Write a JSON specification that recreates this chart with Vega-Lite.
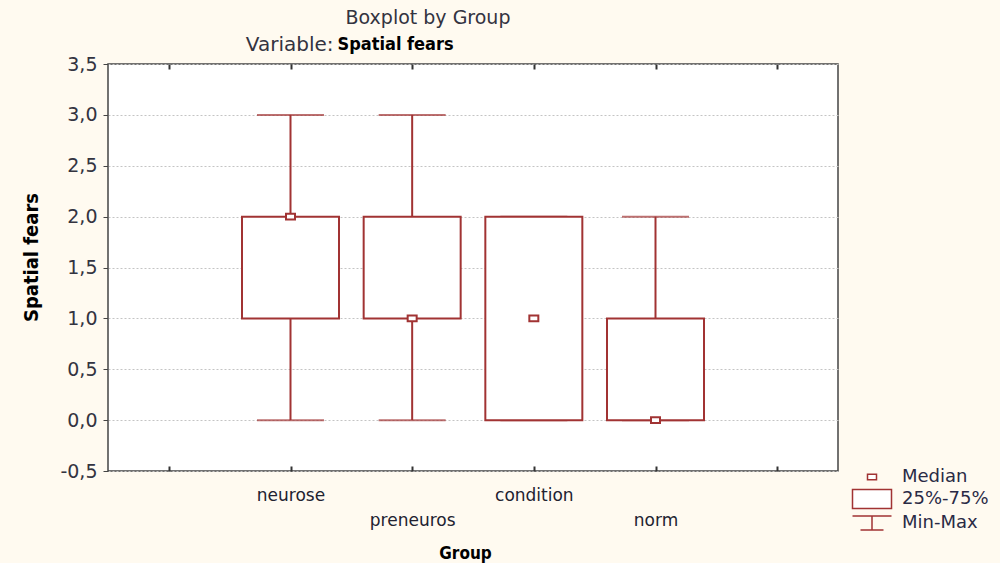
{
  "$schema": "https://vega.github.io/schema/vega-lite/v6.json",
  "width": 730,
  "height": 407,
  "autosize": {"type": "none"},
  "padding": {"left": 108, "top": 64, "right": 162, "bottom": 92},
  "background": "#fffaf0",
  "title": {
    "text": "Boxplot by Group",
    "fontSize": 19,
    "fontWeight": "normal",
    "font": "DejaVu Sans",
    "color": "#333340",
    "anchor": "middle",
    "frame": "group",
    "dx": -45,
    "offset": 6
  },
  "data": {
    "values": [
      {"group": "neurose", "min": 0, "q1": 1, "median": 2, "q3": 2, "max": 3},
      {"group": "preneuros", "min": 0, "q1": 1, "median": 1, "q3": 2, "max": 3},
      {"group": "condition", "min": 0, "q1": 0, "median": 1, "q3": 2, "max": 2},
      {"group": "norm", "min": 0, "q1": 0, "median": 0, "q3": 1, "max": 2}
    ]
  },
  "resolve": {"axis": {"x": "independent", "y": "independent"}},
  "layer": [
    {
      "mark": {"type": "rule", "color": "#a13333", "strokeWidth": 2},
      "encoding": {
        "x": {
          "field": "group",
          "type": "nominal",
          "sort": null,
          "scale": {"type": "point", "domain": [" ", "neurose", "preneuros", "condition", "norm", "  "], "padding": 0.5},
          "axis": {
            "orient": "bottom",
            "title": "Group",
            "titleFont": "'Liberation Sans Narrow', 'DejaVu Sans Condensed', sans-serif",
            "titleFontWeight": "bold",
            "titleFontSize": 17,
            "titleColor": "#000000",
            "titlePadding": 17,
            "titleX": 357,
            "labelAngle": 0,
            "labelExpr": "datum.label == 'preneuros' || datum.label == 'norm' ? ['', datum.label] : datum.label",
            "labelLineHeight": 25,
            "labelFont": "DejaVu Sans",
            "labelFontSize": 17,
            "labelPadding": 21,
            "labelColor": "#222230",
            "tickSize": -5,
            "tickColor": "#333333",
            "tickWidth": 2,
            "domain": false,
            "grid": false
          }
        },
        "y": {
          "field": "min",
          "type": "quantitative",
          "scale": {"domain": [-0.5, 3.5], "nice": false, "zero": false},
          "axis": {
            "orient": "left",
            "title": "Spatial fears",
            "titleFont": "'Liberation Sans Narrow', 'DejaVu Sans Condensed', sans-serif",
            "titleFontWeight": "bold",
            "titleFontSize": 20,
            "titleColor": "#000000",
            "titlePadding": 18,
            "titleY": 193,
            "values": [-0.5, 0, 0.5, 1, 1.5, 2, 2.5, 3, 3.5],
            "labelExpr": "replace(replace(format(datum.value, '.1f'), '.', ','), '\u2212', '-')",
            "labelFont": "DejaVu Sans",
            "labelFontSize": 19,
            "labelColor": "#333340",
            "labelPadding": 6,
            "tickSize": 5,
            "tickColor": "#444444",
            "domain": false,
            "grid": true,
            "gridColor": "#c4c4c4",
            "gridDash": [2, 2],
            "gridWidth": 1
          }
        },
        "y2": {"field": "q1"}
      }
    },
    {
      "mark": {"type": "rule", "color": "#a13333", "strokeWidth": 2},
      "encoding": {
        "x": {
          "field": "group",
          "type": "nominal",
          "sort": null,
          "axis": {
            "orient": "top",
            "title": "Variable:",
            "titleFont": "DejaVu Sans",
            "titleFontWeight": "normal",
            "titleFontSize": 20,
            "titleColor": "#333340",
            "titleX": 225,
            "titleY": -20,
            "titleAlign": "right",
            "titleBaseline": "middle",
            "titleAngle": 0,
            "labels": false,
            "tickSize": -5,
            "tickColor": "#333333",
            "tickWidth": 2,
            "domain": false,
            "grid": false
          }
        },
        "y": {
          "field": "q3",
          "type": "quantitative",
          "axis": {
            "orient": "right",
            "title": "Spatial fears",
            "titleFont": "'Liberation Sans Narrow', 'DejaVu Sans Condensed', sans-serif",
            "titleFontWeight": "bold",
            "titleFontSize": 18,
            "titleColor": "#000000",
            "titleAngle": 0,
            "titleX": -501,
            "titleY": -20,
            "titleAlign": "left",
            "titleBaseline": "middle",
            "labels": false,
            "ticks": false,
            "domain": false,
            "grid": false
          }
        },
        "y2": {"field": "max"}
      }
    },
    {
      "mark": {"type": "tick", "color": "#a13333", "thickness": 2, "size": 67, "orient": "horizontal"},
      "encoding": {
        "x": {"field": "group", "type": "nominal", "sort": null, "axis": null},
        "y": {"field": "min", "type": "quantitative", "axis": null}
      }
    },
    {
      "mark": {"type": "tick", "color": "#a13333", "thickness": 2, "size": 67, "orient": "horizontal"},
      "encoding": {
        "x": {"field": "group", "type": "nominal", "sort": null, "axis": null},
        "y": {"field": "max", "type": "quantitative", "axis": null}
      }
    },
    {
      "mark": {"type": "bar", "fill": "#ffffff", "stroke": "#a13333", "strokeWidth": 2, "size": 97},
      "encoding": {
        "x": {"field": "group", "type": "nominal", "sort": null, "axis": null},
        "y": {"field": "q1", "type": "quantitative", "axis": null},
        "y2": {"field": "q3"}
      }
    },
    {
      "mark": {"type": "point", "filled": false, "fill": "#ffffff", "stroke": "#a13333", "strokeWidth": 2, "size": 400, "opacity": 1},
      "encoding": {
        "x": {"field": "group", "type": "nominal", "sort": null, "axis": null},
        "y": {"field": "median", "type": "quantitative", "axis": null},
        "shape": {
          "datum": "Median",
          "scale": {
            "domain": ["Median", "25%-75%", "Min-Max"],
            "range": [
              "M-0.45,-0.28H0.45V0.28H-0.45Z",
              "M-1.95,-0.95H1.95V0.95H-1.95Z",
              "M-1.95,-0.7H1.95M0,-0.7V0.7M-1.15,0.7H1.15"
            ]
          },
          "legend": {
            "orient": "none",
            "legendX": 753,
            "legendY": 402,
            "title": null,
            "symbolSize": 400,
            "labelOffset": 19,
            "labelFontSize": 18,
            "labelFont": "DejaVu Sans",
            "labelColor": "#2a2a45",
            "rowPadding": 0,
            "padding": 0,
            "encode": {
              "symbols": {
                "update": {
                  "stroke": {"value": "#a13333"},
                  "fill": {"value": "transparent"},
                  "strokeWidth": {"value": 2},
                  "opacity": {"value": 1}
                }
              }
            }
          }
        }
      }
    }
  ],
  "config": {
    "font": "DejaVu Sans",
    "view": {"fill": "#ffffff", "stroke": "#444444", "strokeWidth": 1.5}
  }
}
